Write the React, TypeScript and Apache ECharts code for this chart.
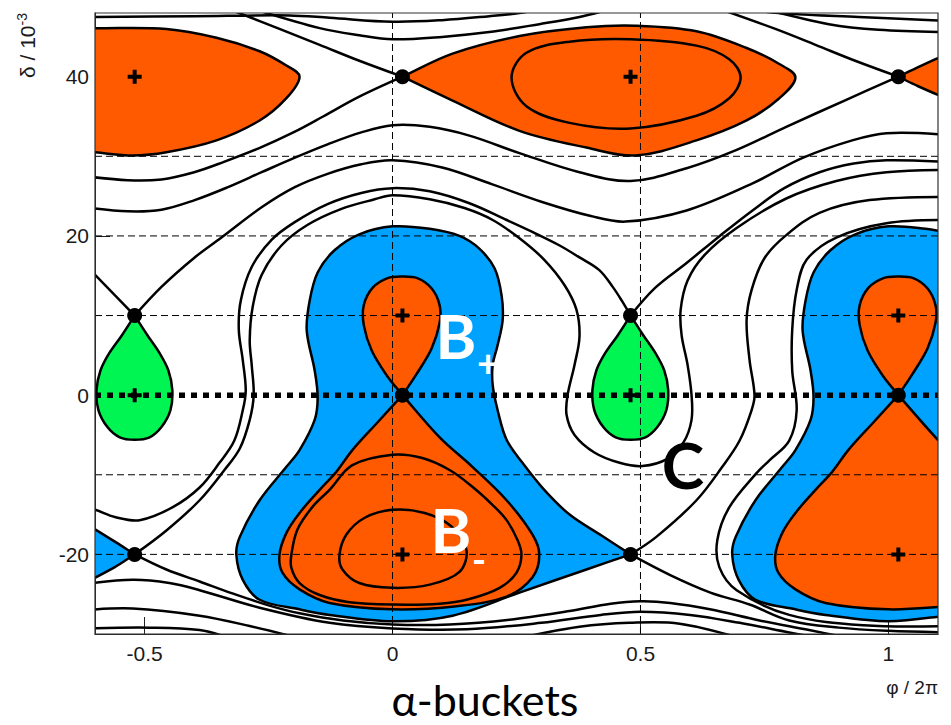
import React, { useEffect, useRef } from "react";
import * as echarts from "echarts";

type Pt = [number, number];

// ---------------- axes ----------------
const PHI_MIN = -0.6;
const PHI_MAX = 1.1;
const DELTA_MIN = -30;
const DELTA_MAX = 48;
const phiTicks = [-0.5, 0, 0.5, 1];
const deltaTicks = [-20, 0, 20, 40];
const dashedDeltaLines = [30, 20, 10, -10, -20];
const dashedPhiLines = [0, 0.5];
const dottedDeltaLine = 0;

// ---------------- fixed points ----------------
const stablePoints: Pt[] = [
  [-0.52, 40], [0.48, 40], [-0.52, 0], [0.02, 10], [0.48, 0], [1.02, 10], [0.02, -20], [1.02, -20],
];
const unstablePoints: Pt[] = [
  [0.02, 40], [1.02, 40], [-0.52, 10], [0.48, 10], [0.02, 0], [1.02, 0], [-0.52, -20], [0.48, -20],
];

// ---------------- filled regions ----------------
const orangeTopLeft: Pt[] = [
  [-0.62, 46.1], [-0.6, 46.1], [-0.456, 46.0], [-0.355, 44.9], [-0.268, 43.2], [-0.214, 41.4], [-0.1875, 40.0],
  [-0.214, 37.3], [-0.268, 34.5], [-0.355, 32.0], [-0.456, 30.5], [-0.524, 30.1], [-0.6, 30.5],
  [-0.62, 30.6], [-0.62, 30.6], [-0.62, 46.1],
];
const orangeTopMid: Pt[] = [
  [0.02, 40], [0.121, 42.9], [0.256, 45.1], [0.391, 46.2], [0.49, 46.4], [0.613, 45.7], [0.714, 43.6],
  [0.78, 41.6], [0.8125, 39.9], [0.78, 37.3], [0.714, 34.5], [0.613, 32.0], [0.49, 30.1], [0.391, 31.1],
  [0.256, 33.2], [0.121, 37.0], [0.02, 40],
];
const orangeTopMidInner: Pt[] = [
  [0.24, 39.9], [0.27, 43.0], [0.357, 44.4], [0.48, 44.7], [0.613, 43.9], [0.679, 42.2], [0.702, 39.9],
  [0.679, 37.3], [0.613, 35.1], [0.48, 33.5], [0.357, 34.2], [0.27, 36.3],
];
const orangeTopRight: Pt[] = [
  [1.02, 40], [1.06, 41.2], [1.13, 43.2], [1.13, 43.2], [1.13, 36.9], [1.13, 36.9], [1.06, 38.8], [1.02, 40],
];
const blueCentre: Pt[] = [
  [0.48, -20], [0.423, -17.7], [0.357, -15.0], [0.306, -11.9], [0.262, -8.5], [0.23, -5.6], [0.212, -1.9],
  [0.202, 1.25], [0.202, 3.8], [0.212, 6.3], [0.222, 9.4], [0.22, 12.5], [0.206, 15.9], [0.175, 18.4],
  [0.135, 20.0], [0.075, 20.9], [0.0, 21.2], [-0.067, 20.2], [-0.117, 18.2], [-0.151, 15.4], [-0.167, 11.9],
  [-0.173, 8.1], [-0.157, 3.1], [-0.151, -0.25], [-0.157, -3.1], [-0.1875, -6.9], [-0.214, -9.0],
  [-0.268, -13.2], [-0.308, -17.8], [-0.315, -20.05], [-0.302, -23.2], [-0.268, -25.7], [-0.1875, -26.9],
  [-0.127, -27.6], [0.0, -28.4], [0.121, -27.7], [0.256, -24.8], [0.391, -21.9], [0.48, -20],
];
const blueLeftWedge: Pt[] = [
  [-0.52, -20], [-0.56, -18.4], [-0.63, -15.7], [-0.63, -15.7], [-0.63, -23.9], [-0.63, -23.9], [-0.56, -21.6], [-0.52, -20],
];
const blueRight: Pt[] = [
  [1.13, 20.3], [1.13, 20.3], [1.075, 20.9], [1.0, 21.2], [0.933, 20.2], [0.883, 18.2], [0.849, 15.4],
  [0.833, 11.9], [0.827, 8.1], [0.843, 3.1], [0.849, -0.25], [0.843, -3.1], [0.8125, -6.9], [0.786, -9.0],
  [0.732, -13.2], [0.692, -17.8], [0.685, -20.05], [0.698, -23.2], [0.732, -25.7], [0.8125, -26.9],
  [0.873, -27.6], [1.0, -28.4], [1.13, -27.6], [1.13, -27.6],
];
const orangeBMinus: Pt[] = [
  [0.02, 0], [-0.03, -3.4], [-0.081, -6.9], [-0.113, -9.6], [-0.147, -11.9], [-0.1875, -14.8], [-0.214, -17.3],
  [-0.228, -20.05], [-0.222, -22.3], [-0.1875, -24.4], [-0.127, -26.1], [0.0, -26.9], [0.129, -26.5],
  [0.23, -25.3], [0.282, -22.9], [0.296, -20.05], [0.282, -17.5], [0.23, -13.2], [0.161, -9.0], [0.095, -5.3],
  [0.02, 0],
];
const orangeBMinusRight: Pt[] = [
  [1.02, 0], [0.97, -3.4], [0.919, -6.9], [0.887, -9.6], [0.853, -11.9], [0.8125, -14.8], [0.786, -17.3],
  [0.772, -20.05], [0.778, -22.3], [0.8125, -24.4], [0.873, -26.1], [1.0, -26.9], [1.13, -26.5], [1.13, -26.5],
  [1.13, -7.4], [1.13, -7.4], [1.095, -5.3], [1.02, 0],
];
const bMinusContourOuter: Pt[] = [
  [-0.204, -20.05], [-0.192, -16.9], [-0.161, -14.0], [-0.127, -11.9], [-0.081, -8.8], [0.0, -7.5], [0.06, -7.9],
  [0.115, -9.4], [0.161, -11.5], [0.202, -13.8], [0.23, -15.7], [0.252, -18.2], [0.26, -20.05], [0.25, -22.3],
  [0.216, -24.2], [0.155, -25.6], [0.095, -26.2], [0.0, -26.3], [-0.087, -26.0], [-0.147, -25.1],
  [-0.1875, -23.6], [-0.204, -21.7],
];
const bMinusContourInner: Pt[] = [
  [-0.107, -20.05], [-0.093, -17.5], [-0.056, -15.4], [0.0, -14.4], [0.065, -14.8], [0.119, -16.5],
  [0.149, -19.4], [0.135, -22.2], [0.075, -23.8], [0.0, -24.2], [-0.067, -23.6], [-0.101, -21.9],
];
const orangeBPlus: Pt[] = [
  [0.02, 0], [-0.012, 2.5], [-0.042, 5.6], [-0.058, 8.8], [-0.058, 11.3], [-0.04, 13.5], [-0.01, 14.7],
  [0.018, 14.9], [0.05, 14.7], [0.079, 13.4], [0.095, 11.3], [0.095, 9.1], [0.079, 5.9], [0.048, 2.6], [0.02, 0],
];
const orangeBPlusRight: Pt[] = [
  [1.02, 0], [0.988, 2.5], [0.958, 5.6], [0.942, 8.8], [0.942, 11.3], [0.96, 13.5], [0.99, 14.7],
  [1.018, 14.9], [1.05, 14.7], [1.079, 13.4], [1.095, 11.3], [1.095, 9.1], [1.079, 5.9], [1.048, 2.6], [1.02, 0],
];
const greenLeft: Pt[] = [
  [-0.52, 10], [-0.546, 7.5], [-0.571, 5.3], [-0.589, 3.1], [-0.597, 0.6], [-0.593, -1.9], [-0.575, -4.0],
  [-0.55, -5.3], [-0.52, -5.6], [-0.49, -5.3], [-0.466, -4.0], [-0.448, -1.9], [-0.444, 0.6], [-0.452, 3.1],
  [-0.47, 5.3], [-0.494, 7.5], [-0.52, 10],
];
const greenRight: Pt[] = [
  [0.48, 10], [0.454, 7.5], [0.429, 5.3], [0.411, 3.1], [0.403, 0.6], [0.407, -1.9], [0.425, -4.0],
  [0.45, -5.3], [0.48, -5.6], [0.51, -5.3], [0.534, -4.0], [0.552, -1.9], [0.556, 0.6], [0.548, 3.1],
  [0.53, 5.3], [0.506, 7.5], [0.48, 10],
];

// ---------------- contour lines ----------------
const topLineA_left: Pt[] = [
  [-0.62, 47.5], [-0.4, 47.6], [-0.208, 47.7], [-0.127, 47.4], [0.0, 46.9], [0.1, 47.1], [0.195, 47.6], [0.256, 48.0], [0.3, 48.5],
];
const topLineA_right: Pt[] = [[0.7, 48.5], [0.8, 47.9], [0.94, 47.5], [1.12, 47.0]];
const topLineB_left: Pt[] = [
  [-0.28, 48.5], [-0.147, 46.1], [-0.067, 45.2], [0.0, 44.7], [0.1, 45.0], [0.195, 45.6], [0.296, 46.6], [0.377, 47.5], [0.44, 48.5],
];
const topLineB_right: Pt[] = [[0.75, 48.5], [0.88, 46.6], [0.98, 45.9], [1.12, 45.6]];
const sepUpLeftMid: Pt[] = [[0.02, 40], [-0.067, 42.0], [-0.147, 44.0], [-0.228, 46.0], [-0.33, 48.5]];
const sepUpLeftRight: Pt[] = [[1.02, 40], [0.933, 42.0], [0.853, 44.0], [0.772, 46.0], [0.66, 48.5]];
const sepDownLeftMid: Pt[] = [
  [0.02, 40], [-0.07, 37.4], [-0.14, 35.0], [-0.2, 33.0], [-0.27, 31.0], [-0.34, 29.3], [-0.4, 28.0],
  [-0.466, 27.1], [-0.534, 27.0], [-0.62, 27.5],
];
const sepDownLeftRight: Pt[] = [
  [1.02, 40], [0.915, 37.1], [0.794, 33.7], [0.694, 30.8], [0.593, 28.5], [0.48, 26.9], [0.377, 28.0],
  [0.256, 30.4], [0.155, 32.6], [0.075, 33.7], [0.0, 33.9], [-0.063, 33.0], [-0.131, 31.5], [-0.198, 29.8],
  [-0.264, 28.0], [-0.333, 26.1], [-0.399, 24.5], [-0.466, 23.3], [-0.534, 23.1], [-0.62, 23.6],
];
const sepUpRightLeftX: Pt[] = [
  [-0.52, 10], [-0.466, 13.6], [-0.399, 17.3], [-0.345, 19.8], [-0.264, 23.6], [-0.198, 26.1], [-0.131, 27.8],
  [-0.063, 29.0], [0.0, 29.5], [0.1, 28.6], [0.2, 26.5], [0.3, 24.3], [0.4, 22.5], [0.47, 21.8], [0.593, 23.2],
  [0.726, 26.6], [0.827, 29.8], [0.927, 32.0], [0.996, 32.9], [1.12, 32.7],
];
const sepUpLeftLeftX: Pt[] = [[-0.52, 10], [-0.62, 16.4]];
const orbitOuterLeft: Pt[] = [
  [-0.62, -14.2], [-0.6, -14.4], [-0.56, -15.3], [-0.51, -15.7], [-0.444, -14.1], [-0.389, -11.6], [-0.349, -8.5],
  [-0.319, -5.7], [-0.302, -1.9], [-0.296, 0.6], [-0.302, 4.4], [-0.31, 8.2], [-0.306, 11.9], [-0.284, 16.1],
  [-0.244, 19.5], [-0.198, 21.7], [-0.131, 24.0], [-0.063, 25.4], [0.0, 26.0], [0.075, 25.6], [0.155, 24.1],
  [0.23, 22.0], [0.282, 20.5], [0.337, 18.8], [0.377, 17.3], [0.417, 15.7], [0.444, 13.6], [0.462, 11.9], [0.48, 10],
];
const sepAroundCentre: Pt[] = [
  [-0.52, -20], [-0.456, -17.0], [-0.389, -13.2], [-0.339, -9.4], [-0.308, -6.7], [-0.288, -3.1], [-0.28, 0.0],
  [-0.284, 3.8], [-0.288, 6.9], [-0.282, 11.1], [-0.264, 15.1], [-0.224, 18.8], [-0.171, 21.4], [-0.103, 23.4],
  [-0.036, 24.6], [0.0, 25.1], [0.075, 24.6], [0.145, 23.5], [0.202, 22.0], [0.256, 19.7], [0.306, 17.0],
  [0.347, 13.8], [0.371, 10.7], [0.377, 7.3], [0.367, 3.8], [0.353, 0.0], [0.351, -2.5], [0.367, -5.0],
  [0.407, -7.2], [0.458, -8.5], [0.504, -8.9], [0.554, -8.0], [0.587, -5.9], [0.603, -3.1], [0.603, 0.0],
  [0.595, 3.8], [0.583, 7.5], [0.581, 10.7], [0.595, 14.4], [0.629, 17.6], [0.694, 21.0], [0.794, 24.7],
  [0.895, 26.9], [0.996, 28.0], [1.12, 28.3],
];
const sepUpRightGreen: Pt[] = [
  [0.48, 10], [0.53, 13.5], [0.593, 16.6], [0.66, 20.0], [0.726, 23.2], [0.79, 26.0], [0.861, 28.0],
  [0.93, 29.1], [0.996, 29.5], [1.12, 29.3],
];
const sepUpRightLow: Pt[] = [
  [0.48, -20], [0.532, -17.8], [0.613, -13.2], [0.665, -9.0], [0.7, -5.7], [0.724, -1.9], [0.73, 0.0],
  [0.72, 4.4], [0.714, 9.4], [0.724, 13.2], [0.75, 17.2], [0.794, 20.1], [0.861, 22.9], [0.962, 24.5], [1.12, 24.9],
];
const orbitAroundRight: Pt[] = [
  [1.12, 22.0], [0.996, 21.6], [0.895, 19.8], [0.835, 17.0], [0.815, 13.2], [0.806, 8.2], [0.806, 3.1],
  [0.815, -1.9], [0.8, -5.7], [0.76, -8.2], [0.734, -9.8], [0.679, -14.1], [0.655, -18.2], [0.659, -21.6],
  [0.694, -24.5], [0.8, -27.6], [0.95, -28.9], [1.12, -29.0],
];
const sepDownRightLeftX: Pt[] = [
  [-0.52, -20], [-0.456, -21.9], [-0.389, -23.4], [-0.323, -24.9], [-0.25, -26.4], [-0.1875, -27.4], [-0.1, -28.3],
  [0.0, -28.8], [0.115, -28.8], [0.236, -28.2], [0.357, -27.1], [0.44, -26.2], [0.5, -25.9], [0.56, -26.1],
  [0.64, -26.9], [0.74, -28.3], [0.84, -29.5], [0.92, -30.5],
];
const sepDownRightMidX: Pt[] = [
  [0.48, -20], [0.56, -22.6], [0.641, -24.8], [0.72, -26.3], [0.8, -28.3], [0.9, -29.2], [1.0, -29.6], [1.12, -29.8],
];
const bottomLineA: Pt[] = [
  [-0.62, -23.7], [-0.524, -23.2], [-0.45, -23.6], [-0.389, -24.5], [-0.268, -26.7], [-0.127, -28.6],
  [0.0, -29.3], [0.15, -29.4], [0.3, -28.6], [0.42, -27.6], [0.5, -27.2], [0.6, -27.6], [0.7, -28.6], [0.8, -29.8], [0.86, -30.5],
];
const bottomLineB: Pt[] = [[-0.62, -27.0], [-0.524, -26.8], [-0.389, -27.7], [-0.288, -29.0], [-0.19, -30.5]];
const bottomLineC: Pt[] = [[-0.62, -29.3], [-0.49, -29.2], [-0.389, -29.5], [-0.33, -30.5]];
const bottomLineD: Pt[] = [[0.256, -30.5], [0.377, -29.1], [0.478, -28.6], [0.579, -28.7], [0.7, -30.5]];

// ---------------- colours ----------------
const ORANGE = "#FF5A00";
const BLUE = "#00A2FF";
const GREEN = "#00F552";

const filledRegions: { pts: Pt[]; color: string; z: number }[] = [
  { pts: blueCentre, color: BLUE, z: 2 },
  { pts: blueLeftWedge, color: BLUE, z: 2 },
  { pts: blueRight, color: BLUE, z: 2 },
  { pts: orangeTopLeft, color: ORANGE, z: 3 },
  { pts: orangeTopMid, color: ORANGE, z: 3 },
  { pts: orangeTopRight, color: ORANGE, z: 3 },
  { pts: orangeBMinus, color: ORANGE, z: 3 },
  { pts: orangeBMinusRight, color: ORANGE, z: 3 },
  { pts: orangeBPlus, color: ORANGE, z: 3 },
  { pts: orangeBPlusRight, color: ORANGE, z: 3 },
  { pts: greenLeft, color: GREEN, z: 3 },
  { pts: greenRight, color: GREEN, z: 3 },
];
const closedContours: Pt[][] = [orangeTopMidInner, bMinusContourOuter, bMinusContourInner];
const openContours: Pt[][] = [
  topLineA_left, topLineA_right, topLineB_left, topLineB_right, sepUpLeftMid, sepUpLeftRight,
  sepDownLeftMid, sepDownLeftRight, sepUpRightLeftX, sepUpLeftLeftX, orbitOuterLeft, sepAroundCentre,
  sepUpRightGreen, sepUpRightLow, orbitAroundRight, sepDownRightLeftX, sepDownRightMidX,
  bottomLineA, bottomLineB, bottomLineC, bottomLineD,
];

const LINE_W = 2.5;

function shapeSeries(pts: Pt[], closed: boolean, fill: string | null, z: number) {
  return {
    type: "custom",
    coordinateSystem: "cartesian2d",
    clip: true,
    silent: true,
    z,
    data: [[0, 0]],
    renderItem: (_params: any, api: any) => ({
      type: closed ? "polygon" : "polyline",
      shape: { points: pts.map((p) => api.coord(p)), smooth: 0.35 },
      style: { fill: fill ?? "none", stroke: "#000", lineWidth: LINE_W },
    }),
  };
}

function buildOption() {
  const series: any[] = [];
  filledRegions.forEach((r) => series.push(shapeSeries(r.pts, true, r.color, r.z)));
  closedContours.forEach((c) => series.push(shapeSeries(c, true, null, 4)));
  openContours.forEach((c) => series.push(shapeSeries(c, false, null, 4)));
  dashedDeltaLines.forEach((d) =>
    series.push({
      type: "line", silent: true, symbol: "none", z: 5,
      data: [[PHI_MIN, d], [PHI_MAX, d]],
      lineStyle: { color: "#000", width: 1, type: [7, 4] },
    })
  );
  dashedPhiLines.forEach((p) =>
    series.push({
      type: "line", silent: true, symbol: "none", z: 5,
      data: [[p, DELTA_MIN], [p, DELTA_MAX]],
      lineStyle: { color: "#000", width: 1, type: [7, 4] },
    })
  );
  series.push({
    type: "line", silent: true, symbol: "none", z: 6,
    data: [[PHI_MIN, dottedDeltaLine], [PHI_MAX, dottedDeltaLine]],
    lineStyle: { color: "#000", width: 5.5, type: [6, 6], cap: "butt" },
  });
  series.push({
    type: "scatter", silent: true, z: 7, data: unstablePoints,
    symbol: "circle", symbolSize: 15, itemStyle: { color: "#000", opacity: 1 },
  });
  series.push({
    type: "scatter", silent: true, z: 7, data: stablePoints,
    symbol: "path://M5,0H9V5H14V9H9V14H5V9H0V5H5Z", symbolSize: 14, itemStyle: { color: "#000", opacity: 1 },
  });

  const tickFont = { fontFamily: "Liberation Sans", fontSize: 21, color: "#1a1a1a" };

  return {
    animation: false,
    backgroundColor: "#ffffff",
    grid: { left: 95, top: 13, width: 843, height: 621, show: false, outerBoundsMode: "none" },
    xAxis: {
      type: "value", min: PHI_MIN, max: PHI_MAX,
      axisLine: { show: true, onZero: false, lineStyle: { color: "#222", width: 1 } },
      splitLine: { show: false },
      axisTick: { show: true, inside: true, length: 17, customValues: phiTicks, lineStyle: { color: "#222" } },
      axisLabel: { ...tickFont, margin: 9, customValues: phiTicks, formatter: (v: number) => String(v) },
    },
    yAxis: {
      type: "value", min: DELTA_MIN, max: DELTA_MAX,
      axisLine: { show: true, onZero: false, lineStyle: { color: "#222", width: 1 } },
      splitLine: { show: false },
      axisTick: { show: true, inside: true, length: 15, customValues: deltaTicks, lineStyle: { color: "#222" } },
      axisLabel: { ...tickFont, margin: 6, customValues: deltaTicks, formatter: (v: number) => String(v) },
    },
    series,
    graphic: [
      {
        type: "rect", silent: true, z: 50,
        shape: { x: 95, y: 13, width: 843, height: 621 },
        style: { fill: "none", stroke: "#333", lineWidth: 1.2 },
      },
      {
        type: "text", silent: true, z: 60, x: 27, y: 13, rotation: Math.PI / 2,
        style: {
          text: "{m|δ / 10}{s|-3}", align: "right", verticalAlign: "middle",
          rich: {
            m: { fontSize: 21, fontFamily: "Liberation Sans", fill: "#1a1a1a", lineHeight: 24 },
            s: { fontSize: 14, fontFamily: "Liberation Sans", fill: "#1a1a1a", verticalAlign: "top" },
          },
        },
      },
      {
        type: "text", silent: true, z: 60, x: 938, y: 687,
        style: { text: "φ / 2π", fontSize: 19, fontFamily: "Liberation Sans", fill: "#1a1a1a", align: "right", verticalAlign: "middle" },
      },
      {
        type: "text", silent: true, z: 60, x: 485, y: 699,
        style: { text: "α-buckets", fontSize: 43, fontFamily: "Lato", fill: "#000", align: "center", verticalAlign: "middle" },
      },
      {
        type: "text", silent: true, z: 60, x: 456, y: 335,
        style: { text: "B", fontSize: 62, fontWeight: "bold", fontFamily: "Lato", fill: "#fff", align: "center", verticalAlign: "middle" },
      },
      {
        type: "text", silent: true, z: 60, x: 488, y: 362,
        style: { text: "+", fontSize: 38, fontWeight: "bold", fontFamily: "Lato", fill: "#fff", align: "center", verticalAlign: "middle" },
      },
      {
        type: "text", silent: true, z: 60, x: 451, y: 529,
        style: { text: "B", fontSize: 62, fontWeight: "bold", fontFamily: "Lato", fill: "#fff", align: "center", verticalAlign: "middle" },
      },
      {
        type: "text", silent: true, z: 60, x: 479, y: 559,
        style: { text: "-", fontSize: 38, fontWeight: "bold", fontFamily: "Lato", fill: "#fff", align: "center", verticalAlign: "middle" },
      },
      {
        type: "text", silent: true, z: 60, x: 683, y: 464,
        style: { text: "C", fontSize: 64, fontWeight: "bold", fontFamily: "Lato", fill: "#000", align: "center", verticalAlign: "middle" },
      },
    ],
  };
}

export default function App() {
  const ref = useRef<HTMLDivElement>(null);
  useEffect(() => {
    if (!ref.current) return;
    const chart = echarts.init(ref.current, undefined, { renderer: "svg" });
    chart.setOption(buildOption() as any);
    return () => chart.dispose();
  }, []);
  return <div ref={ref} style={{ position: "absolute", left: 0, top: 0, width: 951, height: 725 }} />;
}
